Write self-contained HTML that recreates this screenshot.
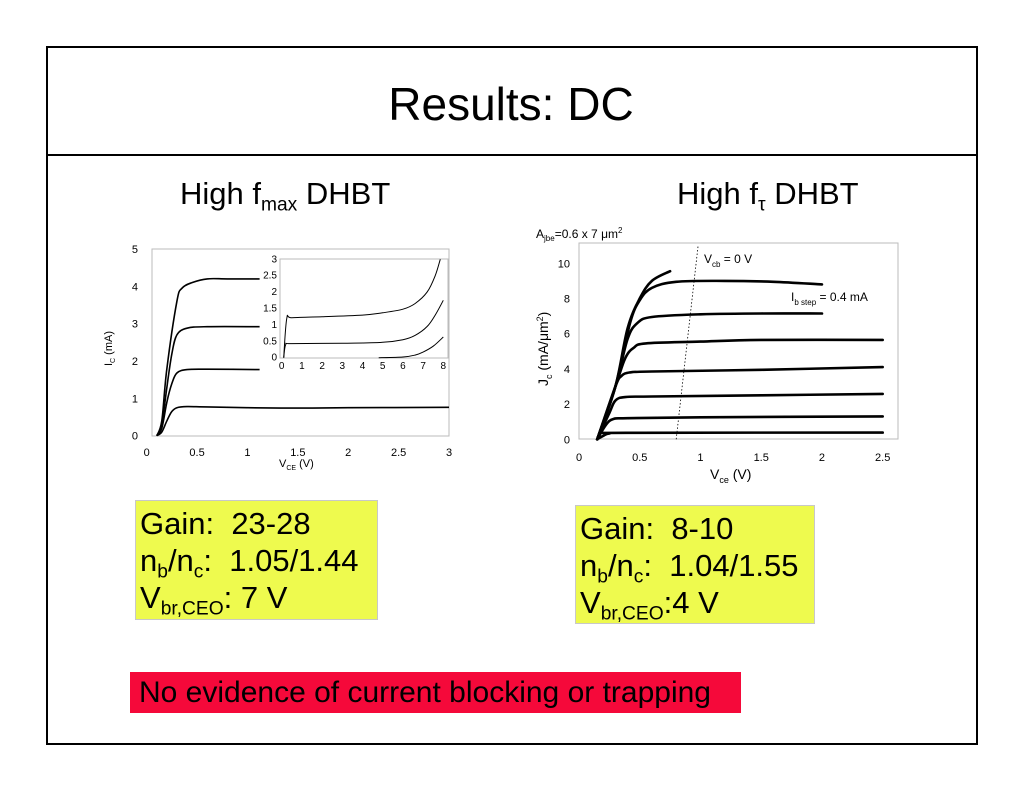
<!DOCTYPE html>
<html><head><meta charset="utf-8">
<style>
body{margin:0;width:1024px;height:791px;background:#fff;font-family:"Liberation Sans",sans-serif;position:relative;overflow:hidden}
.abs{position:absolute}
.box{border:2px solid #000}
.ybox{background:#eefa4e;border:1px solid #c8c8c8;font-size:31px;line-height:37px;padding:4px 4px;box-sizing:border-box;white-space:nowrap}
sub{font-size:62%;vertical-align:-0.35em;line-height:0}
sup{font-size:62%;line-height:0}
svg text{font-family:"Liberation Sans",sans-serif}
</style></head><body>
<div class="abs box" style="left:46px;top:46px;width:928px;height:695px"></div>
<div class="abs" style="left:46px;top:154px;width:930px;height:2px;background:#000"></div>
<div class="abs" style="left:46px;top:77px;width:930px;text-align:center;font-size:46px">Results: DC</div>
<div class="abs" style="left:180px;top:176px;font-size:31px">High f<sub>max</sub> DHBT</div>
<div class="abs" style="left:677px;top:176px;font-size:31px">High f<sub>τ</sub> DHBT</div>

<svg class="abs" style="left:0;top:0" width="1024" height="791">
<g id="left"></g>
<g id="right"></g>
</svg>

<div class="abs ybox" style="left:135px;top:500px;width:243px;height:120px">Gain:&nbsp; 23-28<br>n<sub>b</sub>/n<sub>c</sub>:&nbsp; 1.05/1.44<br>V<sub>br,CEO</sub>: 7 V</div>
<div class="abs ybox" style="left:575px;top:505px;width:240px;height:119px">Gain:&nbsp; 8-10<br>n<sub>b</sub>/n<sub>c</sub>:&nbsp; 1.04/1.55<br>V<sub>br,CEO</sub>:4 V</div>
<div class="abs" style="left:130px;top:672px;width:611px;height:41px;background:#f5093a;font-size:30px;line-height:41px;padding-left:9px;box-sizing:border-box;white-space:nowrap">No evidence of current blocking or trapping</div>

<script>
// Left main chart data (Vce V, Ic mA)
const leftXTicks=[0,0.5,1,1.5,2,2.5,3];
const leftYTicks=[0,1,2,3,4,5];
const leftC1=[[0.1,0],[0.15,0.1],[0.2,0.4],[0.25,0.65],[0.3,0.75],[0.4,0.78],[0.6,0.77],[1,0.75],[1.5,0.74],[2,0.75],[3,0.76]];
const leftC2=[[0.1,0],[0.15,0.2],[0.2,0.9],[0.25,1.4],[0.3,1.68],[0.4,1.77],[0.6,1.78],[1.12,1.77]];
const leftC3=[[0.1,0],[0.15,0.3],[0.2,1.3],[0.25,2.2],[0.3,2.7],[0.4,2.88],[0.6,2.92],[1.12,2.92]];
const leftC4=[[0.1,0],[0.15,0.4],[0.2,1.8],[0.3,3.6],[0.35,3.95],[0.45,4.1],[0.6,4.2],[0.8,4.2],[1.12,4.2]];
// Inset
const insetXTicks=[0,1,2,3,4,5,6,7,8];
const insetYTicks=[0,0.5,1,1.5,2,2.5,3];
const insetC1=[[0.1,0],[0.25,1.2],[0.5,1.22],[2,1.25],[4,1.3],[5,1.37],[6,1.48],[6.6,1.65],[7.2,2.0],[7.6,2.5],[7.85,3.0]];
const insetC2=[[0.1,0],[0.2,0.4],[0.5,0.43],[3,0.44],[5,0.47],[6,0.55],[6.6,0.68],[7.2,0.95],[7.6,1.3],[8,1.75]];
const insetC3=[[4.8,0],[6,0.02],[6.6,0.08],[7,0.17],[7.5,0.35],[8,0.63]];
// Right chart (Vce V, Jc mA/um2)
const rightXTicks=[0,0.5,1,1.5,2,2.5];
const rightYTicks=[0,2,4,6,8,10];
const rightCurves=[
[[0.15,0],[0.2,0.2],[0.25,0.33],[0.4,0.37],[2.5,0.38]],
[[0.15,0],[0.22,0.8],[0.28,1.15],[0.4,1.2],[1,1.25],[2.5,1.3]],
[[0.15,0],[0.25,1.5],[0.3,2.2],[0.38,2.4],[0.6,2.43],[1.5,2.5],[2.5,2.58]],
[[0.15,0],[0.3,3],[0.35,3.6],[0.42,3.8],[0.6,3.85],[1.5,3.95],[2.5,4.1]],
[[0.15,0],[0.3,3],[0.38,4.6],[0.45,5.2],[0.55,5.45],[1,5.55],[1.5,5.65],[2.5,5.65]],
[[0.15,0],[0.3,3],[0.4,5.7],[0.48,6.6],[0.6,6.95],[1,7.1],[1.5,7.15],[2,7.15]],
[[0.15,0],[0.3,3],[0.42,6.6],[0.5,7.9],[0.6,8.6],[0.8,8.95],[1.2,9],[1.6,8.95],[2,8.8]],
[[0.15,0],[0.3,3],[0.4,6.3],[0.5,8],[0.6,9],[0.75,9.55]]
];
const vcbLine=[[0.8,0],[0.98,11]];

const NS='http://www.w3.org/2000/svg';
function mk(parent,tag,attrs,txt){const e=document.createElementNS(NS,tag);for(const k in attrs)e.setAttribute(k,attrs[k]);if(txt!==undefined)e.textContent=txt;parent.appendChild(e);return e;}
function lin(d0,d1,r0,r1){return v=>r0+(v-d0)/(d1-d0)*(r1-r0);}
function pathD(pts,sx,sy){return pts.map((p,i)=>(i?'L':'M')+sx(p[0]).toFixed(1)+' '+sy(p[1]).toFixed(1)).join(' ');}
function smoothD(pts,sx,sy){
  const P=pts.map(p=>[sx(p[0]),sy(p[1])]);
  let d='M'+P[0][0].toFixed(1)+' '+P[0][1].toFixed(1);
  for(let i=0;i<P.length-1;i++){
    const p0=P[i-1]||P[i],p1=P[i],p2=P[i+1],p3=P[i+2]||P[i+1];
    const c1=[p1[0]+(p2[0]-p0[0])/6,p1[1]+(p2[1]-p0[1])/6];
    const c2=[p2[0]-(p3[0]-p1[0])/6,p2[1]-(p3[1]-p1[1])/6];
    d+=' C'+c1.map(v=>v.toFixed(1)).join(' ')+' '+c2.map(v=>v.toFixed(1)).join(' ')+' '+p2.map(v=>v.toFixed(1)).join(' ');
  }
  return d;
}

// ---- Left chart
const L=document.getElementById('left');
const lx=lin(0,3,146.7,449),ly=lin(0,5,435.7,249);
let e=mk(L,'rect',{x:152,y:249,width:297,height:187,fill:'none',stroke:'#bbb','stroke-width':1});

leftXTicks.forEach(t=>{const el=mk(L,'text',{x:lx(t),y:456,'font-size':11,'text-anchor':'middle'},String(t));
});
leftYTicks.forEach(t=>{const el=mk(L,'text',{x:138,y:ly(t)+4,'font-size':11,'text-anchor':'end'},String(t));
});
e=mk(L,'text',{x:279,y:467,'font-size':11},'');e.innerHTML='V<tspan font-size="7" dy="3">CE</tspan><tspan dy="-3"> (V)</tspan>';

e=mk(L,'text',{x:0,y:0,'font-size':11,transform:'translate(112,366) rotate(-90)'},'');e.innerHTML='I<tspan font-size="7" dy="3">C</tspan><tspan dy="-3"> (mA)</tspan>';

[leftC1,leftC2,leftC3,leftC4].forEach(c=>{const p=mk(L,'path',{d:smoothD(c,lx,ly),fill:'none',stroke:'#000','stroke-width':1.6,'stroke-linejoin':'round'});
});
// inset
const ix=lin(0,8,281.7,443.3),iy=lin(0,3,357.7,259.3);
e=mk(L,'rect',{x:280,y:259,width:168,height:99,fill:'#fff',stroke:'#bbb','stroke-width':1});

insetXTicks.forEach(t=>{const el=mk(L,'text',{x:ix(t),y:369,'font-size':10,'text-anchor':'middle'},String(t));
});
insetYTicks.forEach(t=>{const el=mk(L,'text',{x:277,y:iy(t)+3,'font-size':10,'text-anchor':'end'},String(t));
});
[insetC1,insetC2,insetC3].forEach(c=>{const p=mk(L,'path',{d:smoothD(c,ix,iy),fill:'none',stroke:'#000','stroke-width':1});
});

// ---- Right chart
const R=document.getElementById('right');
const rx=lin(0,2.5,579,882.7),ry=lin(0,10,439.3,263.3);
e=mk(R,'rect',{x:579,y:243,width:319,height:196,fill:'none',stroke:'#bbb','stroke-width':1});

rightXTicks.forEach(t=>{const el=mk(R,'text',{x:rx(t),y:461,'font-size':11,'text-anchor':'middle'},String(t));
});
rightYTicks.forEach(t=>{const el=mk(R,'text',{x:570,y:ry(t)+4,'font-size':11,'text-anchor':'end'},String(t));
});
e=mk(R,'text',{x:710,y:479,'font-size':14},'');e.innerHTML='V<tspan font-size="9" dy="4">ce</tspan><tspan dy="-4"> (V)</tspan>';

e=mk(R,'text',{x:0,y:0,'font-size':14,transform:'translate(548,386) rotate(-90)'},'');e.innerHTML='J<tspan font-size="9" dy="4">c</tspan><tspan dy="-4"> (mA/μm</tspan><tspan font-size="9" dy="-5">2</tspan><tspan dy="5">)</tspan>';

e=mk(R,'text',{x:536,y:238,'font-size':12},'');e.innerHTML='A<tspan font-size="8" dy="3">jbe</tspan><tspan dy="-3">=0.6 x 7 μm</tspan><tspan font-size="8" dy="-5">2</tspan>';

e=mk(R,'text',{x:704,y:263,'font-size':12},'');e.innerHTML='V<tspan font-size="8" dy="4">cb</tspan><tspan dy="-4"> = 0 V</tspan>';

e=mk(R,'text',{x:791,y:301,'font-size':12},'');e.innerHTML='I<tspan font-size="8" dy="4">b step</tspan><tspan dy="-4"> = 0.4 mA</tspan>';

e=mk(R,'path',{d:pathD(vcbLine,rx,ry),fill:'none',stroke:'#000','stroke-width':0.8,'stroke-dasharray':'1.5,2'});

rightCurves.forEach(c=>{const p=mk(R,'path',{d:smoothD(c,rx,ry),fill:'none',stroke:'#000','stroke-width':2.6,'stroke-linejoin':'round','stroke-linecap':'round'});
});
</script>
</body></html>
